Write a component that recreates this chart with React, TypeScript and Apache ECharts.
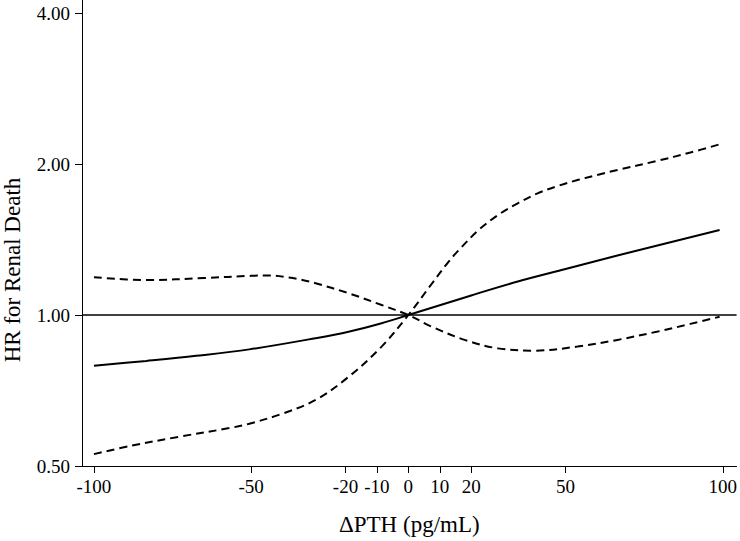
import React, { useEffect, useRef } from "react";
import * as echarts from "echarts";

const xTicks = [-100, -50, -20, -10, 0, 10, 20, 50, 100];

// Point estimate of the hazard ratio
const estX = [-100, -83.3, -67.5, -50.6, -29.5, -19, -8.5, 0, 20, 34.8, 50, 66.5, 99];
const estHR = [0.792, 0.81, 0.829, 0.854, 0.899, 0.926, 0.963, 1, 1.094, 1.166, 1.235, 1.314, 1.477];

// Confidence band, first dashed curve (upper on the left, lower on the right)
const ciAX = [-100, -83, -65, -50, -44, -38, -34, -29.5, -19, -8.5, 0, 7.4, 17.9, 28.5, 40, 53.8, 66.5, 79, 89.7, 99];
const ciAHR = [1.189, 1.174, 1.185, 1.197, 1.199, 1.188, 1.176, 1.157, 1.105, 1.047, 1, 0.948, 0.892, 0.858, 0.849, 0.865, 0.892, 0.926, 0.96, 0.992];

// Confidence band, second dashed curve (lower on the left, upper on the right)
const ciBX = [-100, -88.6, -72.8, -57, -50.6, -40, -29.5, -19, -8.5, 0, 7.4, 12.7, 15.8, 22.2, 28.5, 34.8, 41.1, 47.5, 53.8, 60.1, 66.5, 79, 89.7, 99];
const ciBHR = [0.528, 0.548, 0.572, 0.595, 0.607, 0.636, 0.677, 0.753, 0.865, 1, 1.153, 1.275, 1.342, 1.474, 1.582, 1.67, 1.748, 1.808, 1.858, 1.902, 1.946, 2.028, 2.108, 2.189];

const xMin = -103.8;
const xMax = 104.4;
const refHR = 1;

const FONT = "'Liberation Serif', 'Times New Roman', serif";

function pairs(xs: number[], ys: number[]) {
  return xs.map((x, i) => [x, ys[i]]);
}

export default function App() {
  const ref = useRef<HTMLDivElement>(null);
  useEffect(() => {
    if (!ref.current) return;
    const chart = echarts.init(ref.current, null, { renderer: "svg" });
    chart.setOption({
      animation: false,
      backgroundColor: "#fff",
      grid: { left: 82, right: 0, top: 13, bottom: 75, containLabel: false },
      xAxis: {
        type: "value",
        min: xMin,
        max: xMax,
        name: "ΔPTH (pg/mL)",
        nameLocation: "middle",
        nameGap: 47,
        nameTextStyle: { fontFamily: FONT, fontSize: 23, color: "#000" },
        axisLine: { show: true, onZero: false, lineStyle: { color: "#000", width: 1 } },
        axisTick: { show: true, length: 7, customValues: xTicks, lineStyle: { color: "#000" } },
        axisLabel: {
          customValues: xTicks,
          margin: 11,
          fontFamily: FONT,
          fontSize: 19,
          color: "#000",
        },
        splitLine: { show: false },
      },
      yAxis: {
        type: "log",
        logBase: 2,
        min: 0.5,
        max: 4,
        axisLine: { show: true, onZero: false, lineStyle: { color: "#000", width: 1 } },
        axisTick: { show: true, length: 7, lineStyle: { color: "#000" } },
        axisLabel: {
          margin: 12,
          fontFamily: FONT,
          fontSize: 19,
          color: "#000",
          formatter: (v: number) => v.toFixed(2),
        },
        splitLine: { show: false },
        minorTick: { show: false },
      },
      graphic: [
        {
          type: "line",
          shape: { x1: 82.5, y1: 0, x2: 82.5, y2: 13 },
          style: { stroke: "#000", lineWidth: 1 },
        },
        {
          type: "text",
          x: 12,
          y: 270,
          rotation: Math.PI / 2,
          style: {
            text: "HR for Renal Death",
            fontFamily: FONT,
            fontSize: 23,
            fill: "#000",
            textAlign: "center",
            textVerticalAlign: "middle",
          },
        },
      ],
      series: [
        {
          type: "line",
          data: [[xMin, refHR], [xMax, refHR]],
          showSymbol: false,
          lineStyle: { color: "#000", width: 1.5 },
          silent: true,
        },
        {
          type: "line",
          data: pairs(estX, estHR),
          showSymbol: false,
          smooth: 0.35,
          lineStyle: { color: "#000", width: 2 },
        },
        {
          type: "line",
          data: pairs(ciAX, ciAHR),
          showSymbol: false,
          smooth: 0.35,
          lineStyle: { color: "#000", width: 2, type: [8, 5] },
        },
        {
          type: "line",
          data: pairs(ciBX, ciBHR),
          showSymbol: false,
          smooth: 0.35,
          lineStyle: { color: "#000", width: 2, type: [8, 5] },
        },
      ],
    });
    return () => chart.dispose();
  }, []);
  return (
    <div
      ref={ref}
      style={{ position: "absolute", left: 0, top: 0, width: 740, height: 541 }}
    />
  );
}
